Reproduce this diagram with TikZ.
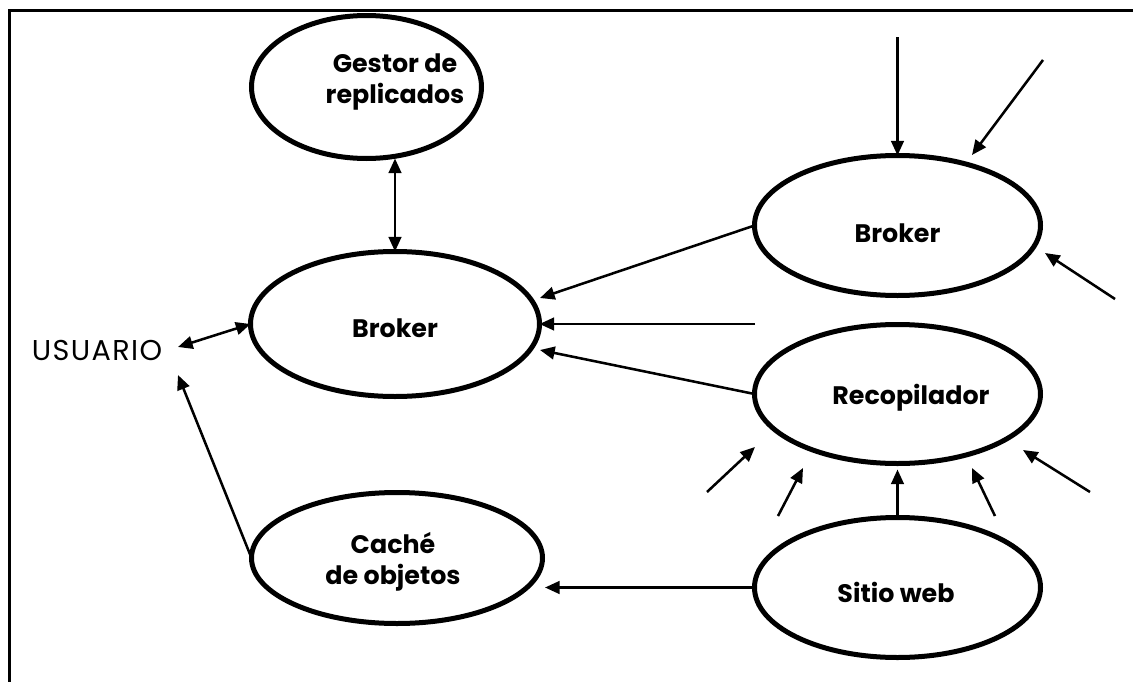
\documentclass[tikz,border=0pt]{standalone}
\usepackage{fontspec}
\setmainfont{Poppins}
\usetikzlibrary{arrows.meta,shapes.geometric}
\begin{document}
\begin{tikzpicture}[x=0.75pt,y=-0.75pt,
  bubble/.style={ellipse, draw, line width=3.75pt, inner sep=0pt, outer sep=0pt},
  conn/.style={line width=1.9pt, -{Triangle[length=11pt,width=9.5pt]}},
  both/.style={line width=1.9pt, {Triangle[length=11pt,width=9.5pt]}-{Triangle[length=11pt,width=9.5pt]}},
  lbl/.style={font=\bfseries\fontsize{19}{23}\selectfont, align=center, inner sep=0pt},
]
\useasboundingbox (0,0) rectangle (1133,682);

% frame
\draw[line width=2.25pt] (9.5,682) -- (9.5,10.5) -- (1133,10.5);

% bubbles
\node[bubble, minimum width=0.75*230pt, minimum height=0.75*143pt] (gestor) at (366.5,87) {};
\node[bubble, minimum width=0.75*289pt, minimum height=0.75*145pt] (bm) at (395,324) {};
\node[bubble, minimum width=0.75*286pt, minimum height=0.75*140pt] (br) at (897.5,225.5) {};
\node[bubble, minimum width=0.75*286pt, minimum height=0.75*139pt] (rec) at (897.5,394) {};
\node[bubble, minimum width=0.75*291pt, minimum height=0.75*131pt] (cache) at (397,558) {};
\node[bubble, minimum width=0.75*286pt, minimum height=0.75*140pt] (sitio) at (897.5,587.5) {};

% labels
\node[lbl] (tgestor) at (395,82) {Gestor de\\replicados};
\node[lbl] (tbm) at (395,328) {Broker};
\node[lbl] (tbr) at (897.5,233) {Broker};
\node[lbl] (trec) at (911,398) {Recopilador};
\node[lbl] (tcache) at (393,562) {Caché\\de objetos};
\node[lbl] (tsitio) at (896,592) {Sitio web};
\node[font=\fontsize{21.5}{25}\selectfont\addfontfeatures{LetterSpace=5}, inner sep=0pt] (usuario) at (97,350) {USUARIO};

% free ends
\coordinate (uend) at (178,347);
\coordinate (uin) at (178,375);
\coordinate (hin) at (755,324);
\coordinate (bmA) at (540,298);
\coordinate (bmC) at (540,350);
\coordinate (cacheE) at (545,587.5);
\coordinate (brTop) at (897.5,37);
\coordinate (brNE) at (1043,60);
\coordinate (brNEt) at (972,155);
\coordinate (brSE) at (1115,299);
\coordinate (brSEt) at (1045,253);
\coordinate (r1s) at (707,492);  \coordinate (r1t) at (755,447);
\coordinate (r2s) at (778,516);  \coordinate (r2t) at (803,468);
\coordinate (r3s) at (995,516);  \coordinate (r3t) at (972,468);
\coordinate (r4s) at (1090,492); \coordinate (r4t) at (1023,450);

% connectors
\draw[both] (gestor.south -| bm.north) -- (bm.north);
\draw[both] (uend) -- (bm.west);
\draw[conn] (cache.west) -- (uin);
\draw[conn] (br.west) -- (bmA);
\draw[conn] (hin) -- (bm.east);
\draw[conn] (rec.west) -- (bmC);
\draw[conn] (sitio.west) -- (cacheE);
\draw[conn, shorten >=4.5pt] (sitio.north) -- (rec.south);
\draw[conn] (brTop) -- (br.north);
\draw[conn] (brNE) -- (brNEt);
\draw[conn] (brSE) -- (brSEt);
\draw[conn] (r1s) -- (r1t);
\draw[conn] (r2s) -- (r2t);
\draw[conn] (r3s) -- (r3t);
\draw[conn] (r4s) -- (r4t);
\end{tikzpicture}
\end{document}
